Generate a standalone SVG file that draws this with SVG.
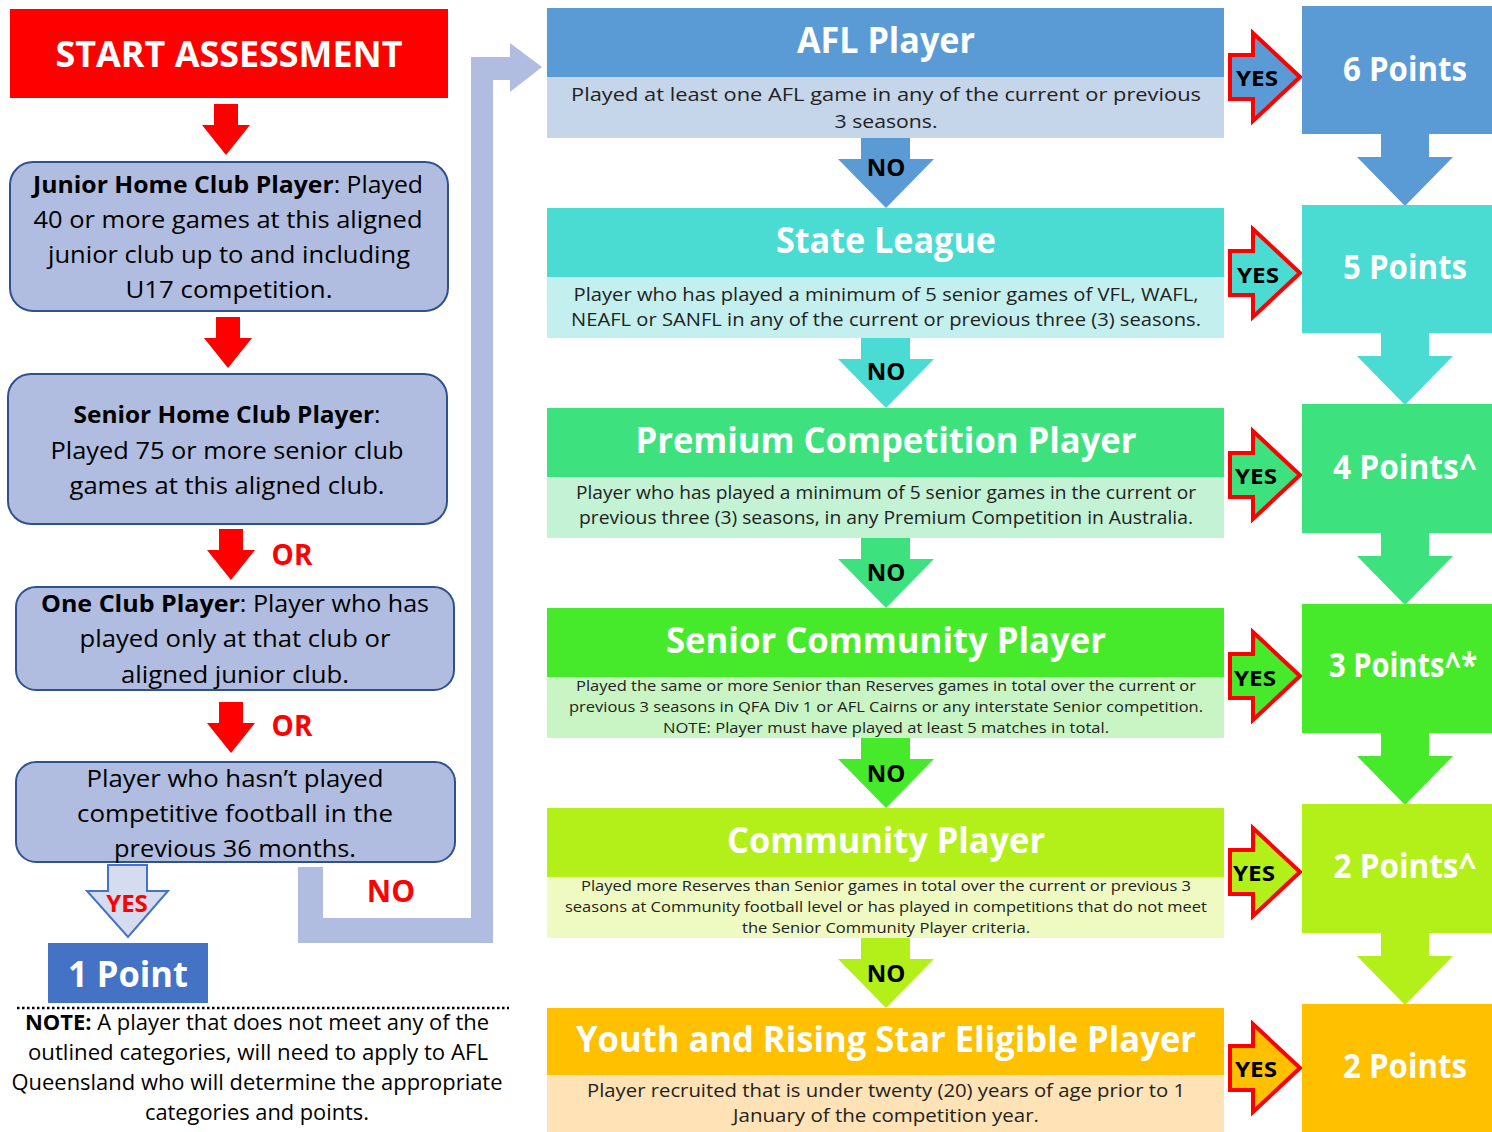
<svg xmlns="http://www.w3.org/2000/svg" xmlns:xlink="http://www.w3.org/1999/xlink" width="1492" height="1132" viewBox="0 0 1492 1132">
<style>
text { font-family: "Open Sans", "Liberation Sans", sans-serif; text-anchor: middle; }
.lb { fill: #B0BDE0; stroke: #2F528F; stroke-width: 2; }
.lt { font-size: 24px; fill: #000; }
.ttl { font-size: 36px; font-weight: bold; fill: #fff; }
.bd { font-size: 18px; fill: #222; }
.bs { font-size: 15px; fill: #222; }
.no { font-size: 24px; font-weight: bold; fill: #000; }
.yes { font-size: 22px; font-weight: bold; fill: #000; }
.pts { font-size: 34px; font-weight: bold; fill: #fff; }
.red { fill: #FF0000; }
.or { font-size: 28px; font-weight: bold; fill: #FF0000; }
</style>
<defs>
<path id="yesA" d="M1230,-22 H1253 V-44 L1300,0 L1253,44 V22 H1230 Z" stroke="#FF0000" stroke-width="4" stroke-linejoin="miter"/>
<path id="noA" d="M861,0 H910 V21 H934 L886,70 L838,21 H861 Z"/>
<path id="ptA" d="M1381,0 H1429 V23 H1453 L1405,72 L1357,23 H1381 Z"/>
<path id="redA" d="M-12,0 H12 V21 H24 L0,51 L-24,21 H-12 Z"/>
</defs>

<g id="connectors">
<path d="M298,867 V943 H493 V80 H510 V92 L542,67 L510,43 V57 H471 V918 H323 V867 Z" fill="#B0BDE0"/>
<use xlink:href="#redA" href="#redA" x="226" y="104" class="red"/>
<use xlink:href="#redA" href="#redA" x="228" y="317" class="red"/>
<use xlink:href="#redA" href="#redA" x="231" y="529" class="red"/>
<use xlink:href="#redA" href="#redA" x="231" y="702" class="red"/>
<text class="or" x="292" y="565">OR</text>
<text class="or" x="292" y="736">OR</text>
<path d="M108,865 H147 V891 H168 L128,937 L87,891 H108 Z" fill="#D6DCF0" stroke="#4472C4" stroke-width="2"/>
<text x="127" y="912" font-size="24" font-weight="bold" fill="#FF0000">YES</text>
<text x="391" y="902" font-size="30" font-weight="bold" fill="#FF0000">NO</text>
<use xlink:href="#noA" href="#noA" y="138" fill="#5B9BD5"/>
<use xlink:href="#noA" href="#noA" y="338" fill="#4ADBD2"/>
<use xlink:href="#noA" href="#noA" y="538" fill="#3DE27F"/>
<use xlink:href="#noA" href="#noA" y="738" fill="#47EA2B"/>
<use xlink:href="#noA" href="#noA" y="938" fill="#B3F01A"/>
<text class="no" x="886" y="176">NO</text>
<text class="no" x="886" y="380">NO</text>
<text class="no" x="886" y="581">NO</text>
<text class="no" x="886" y="782">NO</text>
<text class="no" x="886" y="982">NO</text>
<use xlink:href="#yesA" href="#yesA" y="77" fill="#5B9BD5"/>
<use xlink:href="#yesA" href="#yesA" y="273" fill="#4ADBD2"/>
<use xlink:href="#yesA" href="#yesA" y="475" fill="#3DE27F"/>
<use xlink:href="#yesA" href="#yesA" y="676" fill="#47EA2B"/>
<use xlink:href="#yesA" href="#yesA" y="872" fill="#B3F01A"/>
<use xlink:href="#yesA" href="#yesA" y="1068" fill="#FFC000"/>
<text class="yes" x="1257" y="86" textLength="42" lengthAdjust="spacingAndGlyphs">YES</text>
<text class="yes" x="1258" y="283" textLength="42" lengthAdjust="spacingAndGlyphs">YES</text>
<text class="yes" x="1256" y="484" textLength="42" lengthAdjust="spacingAndGlyphs">YES</text>
<text class="yes" x="1255" y="686" textLength="42" lengthAdjust="spacingAndGlyphs">YES</text>
<text class="yes" x="1254" y="881" textLength="42" lengthAdjust="spacingAndGlyphs">YES</text>
<text class="yes" x="1256" y="1077" textLength="42" lengthAdjust="spacingAndGlyphs">YES</text>
<use xlink:href="#ptA" href="#ptA" y="134" fill="#5B9BD5"/>
<use xlink:href="#ptA" href="#ptA" y="333" fill="#4ADBD2"/>
<use xlink:href="#ptA" href="#ptA" y="533" fill="#3DE27F"/>
<use xlink:href="#ptA" href="#ptA" y="733" fill="#47EA2B"/>
<use xlink:href="#ptA" href="#ptA" y="933" fill="#B3F01A"/>
</g>

<g id="start">
<rect x="10" y="9" width="438" height="89" fill="#FF0000"/>
<text x="229" y="67" font-size="36" font-weight="bold" fill="#fff" textLength="347" lengthAdjust="spacingAndGlyphs">START ASSESSMENT</text>
</g>

<g id="junior">
<rect class="lb" x="10" y="162" width="438" height="149" rx="23"/>
<text class="lt" x="228" y="193" textLength="390" lengthAdjust="spacingAndGlyphs"><tspan font-weight="bold">Junior Home Club Player</tspan>: Played</text>
<text class="lt" x="228" y="228" textLength="389" lengthAdjust="spacingAndGlyphs">40 or more games at this aligned</text>
<text class="lt" x="229" y="263" textLength="362" lengthAdjust="spacingAndGlyphs">junior club up to and including</text>
<text class="lt" x="229" y="298" textLength="207" lengthAdjust="spacingAndGlyphs">U17 competition.</text>
</g>

<g id="senior-home">
<rect class="lb" x="8" y="374" width="439" height="150" rx="23"/>
<text class="lt" x="227" y="423" textLength="307" lengthAdjust="spacingAndGlyphs"><tspan font-weight="bold">Senior Home Club Player</tspan>:</text>
<text class="lt" x="227" y="459" textLength="353" lengthAdjust="spacingAndGlyphs">Played 75 or more senior club</text>
<text class="lt" x="227" y="494" textLength="315" lengthAdjust="spacingAndGlyphs">games at this aligned club.</text>
</g>

<g id="one-club">
<rect class="lb" x="16" y="587" width="438" height="103" rx="20"/>
<text class="lt" x="235" y="612" textLength="388" lengthAdjust="spacingAndGlyphs"><tspan font-weight="bold">One Club Player</tspan>: Player who has</text>
<text class="lt" x="235" y="647" textLength="311" lengthAdjust="spacingAndGlyphs">played only at that club or</text>
<text class="lt" x="235" y="683" textLength="228" lengthAdjust="spacingAndGlyphs">aligned junior club.</text>
</g>

<g id="not-played">
<rect class="lb" x="16" y="762" width="439" height="100" rx="20"/>
<text class="lt" x="235" y="787" textLength="297" lengthAdjust="spacingAndGlyphs">Player who hasn’t played</text>
<text class="lt" x="235" y="822" textLength="316" lengthAdjust="spacingAndGlyphs">competitive football in the</text>
<text class="lt" x="235" y="857" textLength="242" lengthAdjust="spacingAndGlyphs">previous 36 months.</text>
</g>

<g id="one-point">
<rect x="48" y="943" width="160" height="60" fill="#4472C4"/>
<text x="128" y="987" font-size="36" font-weight="bold" fill="#fff" textLength="120" lengthAdjust="spacingAndGlyphs">1 Point</text>
</g>

<g id="note">
<line x1="17" y1="1008" x2="509" y2="1008" stroke="#000" stroke-width="2.5" stroke-dasharray="2.5 2.5"/>
<text x="257" y="1030" font-size="22" fill="#000" textLength="464" lengthAdjust="spacingAndGlyphs"><tspan font-weight="bold">NOTE:</tspan> A player that does not meet any of the</text>
<text x="258" y="1060" font-size="22" fill="#000" textLength="460" lengthAdjust="spacingAndGlyphs">outlined categories, will need to apply to AFL</text>
<text x="257" y="1090" font-size="22" fill="#000" textLength="491" lengthAdjust="spacingAndGlyphs">Queensland who will determine the appropriate</text>
<text x="257" y="1120" font-size="22" fill="#000" textLength="224" lengthAdjust="spacingAndGlyphs">categories and points.</text>
</g>

<g id="afl">
<rect x="547" y="8" width="677" height="69" fill="#5B9BD5"/>
<rect x="547" y="77" width="677" height="61" fill="#C5D5EA"/>
<text class="ttl" x="886" y="53" textLength="178" lengthAdjust="spacingAndGlyphs">AFL Player</text>
<text class="bd" x="886" y="101" textLength="630" lengthAdjust="spacingAndGlyphs">Played at least one AFL game in any of the current or previous</text>
<text class="bd" x="886" y="128" textLength="103" lengthAdjust="spacingAndGlyphs">3 seasons.</text>
</g>

<g id="state">
<rect x="547" y="208" width="677" height="69" fill="#4ADBD2"/>
<rect x="547" y="277" width="677" height="61" fill="#C3F0EE"/>
<text class="ttl" x="886" y="253" textLength="220" lengthAdjust="spacingAndGlyphs">State League</text>
<text class="bd" x="886" y="301" textLength="625" lengthAdjust="spacingAndGlyphs">Player who has played a minimum of 5 senior games of VFL, WAFL,</text>
<text class="bd" x="886" y="326" textLength="630" lengthAdjust="spacingAndGlyphs">NEAFL or SANFL in any of the current or previous three (3) seasons.</text>
</g>

<g id="premium">
<rect x="547" y="408" width="677" height="69" fill="#3DE27F"/>
<rect x="547" y="477" width="677" height="61" fill="#C3F2D5"/>
<text class="ttl" x="886" y="453" textLength="501" lengthAdjust="spacingAndGlyphs">Premium Competition Player</text>
<text class="bd" x="886" y="499" textLength="620" lengthAdjust="spacingAndGlyphs">Player who has played a minimum of 5 senior games in the current or</text>
<text class="bd" x="886" y="524" textLength="614" lengthAdjust="spacingAndGlyphs">previous three (3) seasons, in any Premium Competition in Australia.</text>
</g>

<g id="senior-community">
<rect x="547" y="608" width="677" height="69" fill="#47EA2B"/>
<rect x="547" y="677" width="677" height="61" fill="#C9F5C4"/>
<text class="ttl" x="886" y="653" textLength="440" lengthAdjust="spacingAndGlyphs">Senior Community Player</text>
<text class="bs" x="886" y="691" textLength="620" lengthAdjust="spacingAndGlyphs">Played the same or more Senior than Reserves games in total over the current or</text>
<text class="bs" x="886" y="712" textLength="634" lengthAdjust="spacingAndGlyphs">previous 3 seasons in QFA Div 1 or AFL Cairns or any interstate Senior competition.</text>
<text class="bs" x="886" y="733" textLength="446" lengthAdjust="spacingAndGlyphs">NOTE: Player must have played at least 5 matches in total.</text>
</g>

<g id="community">
<rect x="547" y="808" width="677" height="69" fill="#B3F01A"/>
<rect x="547" y="877" width="677" height="61" fill="#EEFAC2"/>
<text class="ttl" x="886" y="853" textLength="318" lengthAdjust="spacingAndGlyphs">Community Player</text>
<text class="bs" x="886" y="891" textLength="610" lengthAdjust="spacingAndGlyphs">Played more Reserves than Senior games in total over the current or previous 3</text>
<text class="bs" x="886" y="912" textLength="642" lengthAdjust="spacingAndGlyphs">seasons at Community football level or has played in competitions that do not meet</text>
<text class="bs" x="886" y="933" textLength="288" lengthAdjust="spacingAndGlyphs">the Senior Community Player criteria.</text>
</g>

<g id="youth">
<rect x="547" y="1008" width="677" height="67" fill="#FFC000"/>
<rect x="547" y="1075" width="677" height="57" fill="#FFE2B5"/>
<text class="ttl" x="886" y="1052" textLength="620" lengthAdjust="spacingAndGlyphs">Youth and Rising Star Eligible Player</text>
<text class="bd" x="886" y="1097" textLength="598" lengthAdjust="spacingAndGlyphs">Player recruited that is under twenty (20) years of age prior to 1</text>
<text class="bd" x="886" y="1122" textLength="306" lengthAdjust="spacingAndGlyphs">January of the competition year.</text>
</g>

<g id="points-6">
<rect x="1302" y="6" width="190" height="128" fill="#5B9BD5"/>
<text class="pts" x="1405" y="81" textLength="124" lengthAdjust="spacingAndGlyphs">6 Points</text>
</g>
<g id="points-5">
<rect x="1302" y="205" width="190" height="128" fill="#4ADBD2"/>
<text class="pts" x="1405" y="279" textLength="124" lengthAdjust="spacingAndGlyphs">5 Points</text>
</g>
<g id="points-4">
<rect x="1302" y="404" width="190" height="129" fill="#3DE27F"/>
<text class="pts" x="1405" y="479" textLength="144" lengthAdjust="spacingAndGlyphs">4 Points^</text>
</g>
<g id="points-3">
<rect x="1302" y="604" width="190" height="129" fill="#47EA2B"/>
<text class="pts" x="1403" y="677" font-size="28" textLength="148" lengthAdjust="spacingAndGlyphs">3 Points^*</text>
</g>
<g id="points-2a">
<rect x="1302" y="804" width="190" height="129" fill="#B3F01A"/>
<text class="pts" x="1405" y="878" textLength="143" lengthAdjust="spacingAndGlyphs">2 Points^</text>
</g>
<g id="points-2b">
<rect x="1302" y="1004" width="190" height="128" fill="#FFC000"/>
<text class="pts" x="1405" y="1078" textLength="124" lengthAdjust="spacingAndGlyphs">2 Points</text>
</g>
</svg>
